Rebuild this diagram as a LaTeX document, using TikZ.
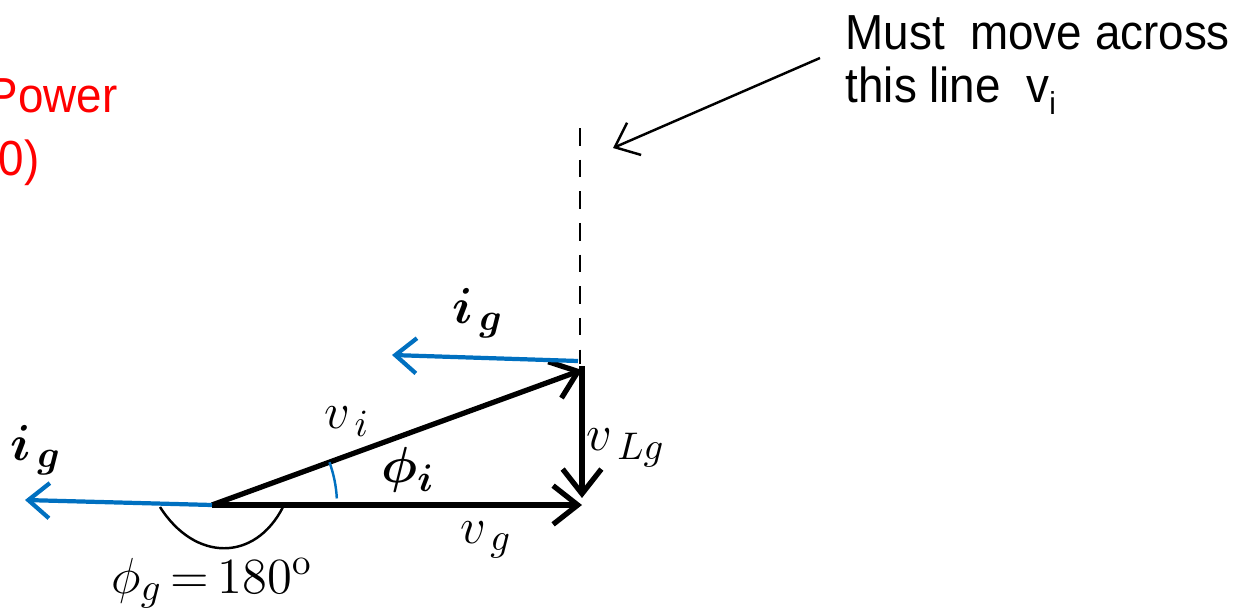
\documentclass[tikz,border=0pt]{standalone}
\usepackage{fontspec}
\setsansfont{Liberation Sans}
\usepackage{amsmath}
\usepackage{bm}
\usetikzlibrary{arrows.meta, positioning}
\definecolor{igblue}{RGB}{0,112,192}

\begin{document}
\begin{tikzpicture}[x=0.01cm, y=-0.01cm,
    vec/.style={line width=1.5pt, -{Straight Barb[length=7pt, width=11pt, line width=1.5pt]}},
    cur/.style={line width=1.2pt, draw=igblue, -{Straight Barb[length=6pt, width=10pt, line width=1.2pt]}},
    lbl/.style={inner sep=0pt, font=\fontsize{15}{18}\selectfont},
    note/.style={inner sep=0pt, anchor=base west, font=\sffamily\fontsize{14}{17}\selectfont}]

  \useasboundingbox (0,0) rectangle (1248,615);

  % Main points of the phasor diagram
  \coordinate (O) at (212,505);
  \coordinate (A) at (582,370);
  \coordinate (B) at (582,505);
  \coordinate (T) at (580,128);
  \coordinate (Tb) at (580,364);

  % Red title (cut off at the left)
  \node[note, text=red] (pw) at (-13,113) {\scalebox{0.93}[1]{Power}};
  \node[note, text=red] (pz) at (-2,175) {\scalebox{0.93}[1]{0)}};

  % Dashed limit line
  \draw[line width=0.5pt, dash pattern=on 5pt off 4pt] (T) -- (Tb);

  % Note with arrow
  \node[note] (must) at (845,50) {\scalebox{0.93}[1]{Must\ \ move across}};
  \node[note] (line) at (845,103) {\scalebox{0.93}[1]{this line\ \ v\raisebox{-0.45ex}{\fontsize{9}{10}\selectfont i}}};
  \coordinate (n1) at (820,58);
  \coordinate (n2) at (613,148);
  \draw[line width=0.7pt, -{Straight Barb[length=6pt, width=10pt, line width=0.7pt]}] (n1) -- (n2);

  % Voltage phasors
  \draw[vec] (O) -- (B);
  \draw[vec] (O) -- (A);
  \draw[vec, shorten <=-1pt] (A) -- ([yshift=2]B);

  % Current phasors
  \coordinate (g1) at (578,361);
  \coordinate (g2) at (392,355);
  \coordinate (g3) at (25,500);
  \draw[cur] (g1) -- (g2);
  \draw[cur] (O) -- (g3);

  % Angles
  \draw[line width=0.7pt, igblue] ([shift={(-20:125)}]O) arc[start angle=-20, end angle=-3, radius=125];
  \draw[line width=0.7pt] (160,507) .. controls (195,562) and (255,562) .. (283,507);

  % Labels
  \node[lbl] (ig1) at (478,313) {$\bm{i}_{\,\bm{g}}$};
  \node[lbl] (ig2) at (36,450) {$\bm{i}_{\,\bm{g}}$};
  \node[lbl] (vi) at (347,422) {$v_{\,i}$};
  \node[lbl] (phii) at (408,470) {$\bm{\phi}_{\bm{i}}$};
  \node[lbl] (vlg) at (626,448) {$v_{\,Lg}$};
  \node[lbl] (vg) at (486,540) {$v_{\,g}$};
  \node[lbl] (phig) at (212,583) {$\phi_g\,{=}\,180^{\mathrm{o}}$};

\end{tikzpicture}
\end{document}
